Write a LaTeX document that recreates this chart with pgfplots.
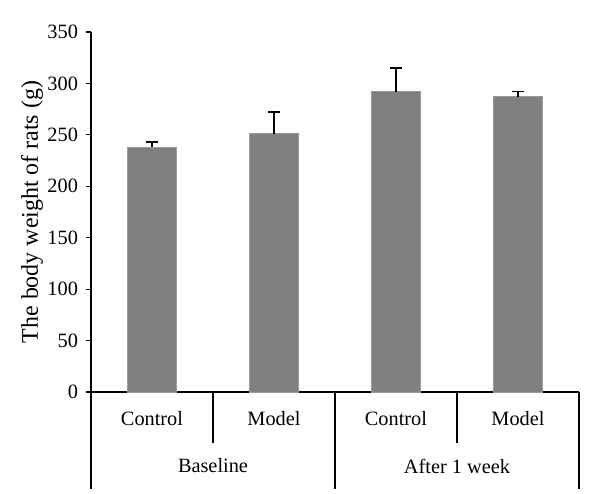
\documentclass[border=0pt]{standalone}
\usepackage{fontspec}
\setmainfont{Liberation Serif}
\usepackage{pgfplots}
\pgfplotsset{compat=1.18}
\begin{document}
\begin{tikzpicture}
\begin{axis}[
  scale only axis,
  width=244bp, height=180bp,
  xmin=0, xmax=4,
  ymin=0, ymax=350,
  ytick={0,50,...,350},
  xtick=\empty,
  axis x line*=bottom,
  axis y line*=left,
  tick align=outside,
  major tick length=2.5bp,
  tick style={black, line width=0.6pt},
  axis line style={black, line width=0.6pt, -},
  /pgf/number format/assume math mode=true,
  ticklabel style={font=\fontsize{10.2}{12}\selectfont},
  yticklabel style={xshift=-0.5bp},
  ylabel={The body weight of rats (g)},
  ylabel style={font=\fontsize{12}{14}\selectfont, at={(axis description cs:-0.121,0.5)}, anchor=center, rotate=0},
  clip=false,
]
\addplot[ybar, bar width=24.5bp, fill=black!50, draw=black!40, line width=0.5pt,
  error bars/.cd, y dir=plus, y explicit,
  error bar style={black, line width=0.8pt},
  error mark options={rotate=90, mark size=2.8bp, black, line width=0.8pt}]
  coordinates {
  (0.5,238) +- (0,5)
  (1.5,251) +- (0,21)
  (2.5,292) +- (0,23)
  (3.5,287) +- (0,5)
  };
\draw[black, line width=0.6pt] (axis cs:1,0) -- ++(0,-25.5bp);
\draw[black, line width=0.6pt] (axis cs:3,0) -- ++(0,-25.5bp);
\draw[black, line width=0.6pt] (axis cs:0,0) -- ++(0,-48.5bp);
\draw[black, line width=0.6pt] (axis cs:2,0) -- ++(0,-48.5bp);
\draw[black, line width=0.6pt] (axis cs:4,0) -- ++(0,-48.5bp);
\node[font=\fontsize{10.2}{12}\selectfont] at ([yshift=-13.5bp]axis cs:0.5,0) {Control};
\node[font=\fontsize{10.2}{12}\selectfont] at ([yshift=-13.5bp]axis cs:1.5,0) {Model};
\node[font=\fontsize{10.2}{12}\selectfont] at ([yshift=-13.5bp]axis cs:2.5,0) {Control};
\node[font=\fontsize{10.2}{12}\selectfont] at ([yshift=-13.5bp]axis cs:3.5,0) {Model};
\node[font=\fontsize{10.2}{12}\selectfont] at ([yshift=-37bp]axis cs:1,0) {Baseline};
\node[font=\fontsize{10.2}{12}\selectfont] at ([yshift=-37bp]axis cs:3,0) {After 1 week};
\end{axis}
\useasboundingbox (-45.5bp,-51bp) rectangle (254.5bp,196bp);
\end{tikzpicture}
\end{document}
